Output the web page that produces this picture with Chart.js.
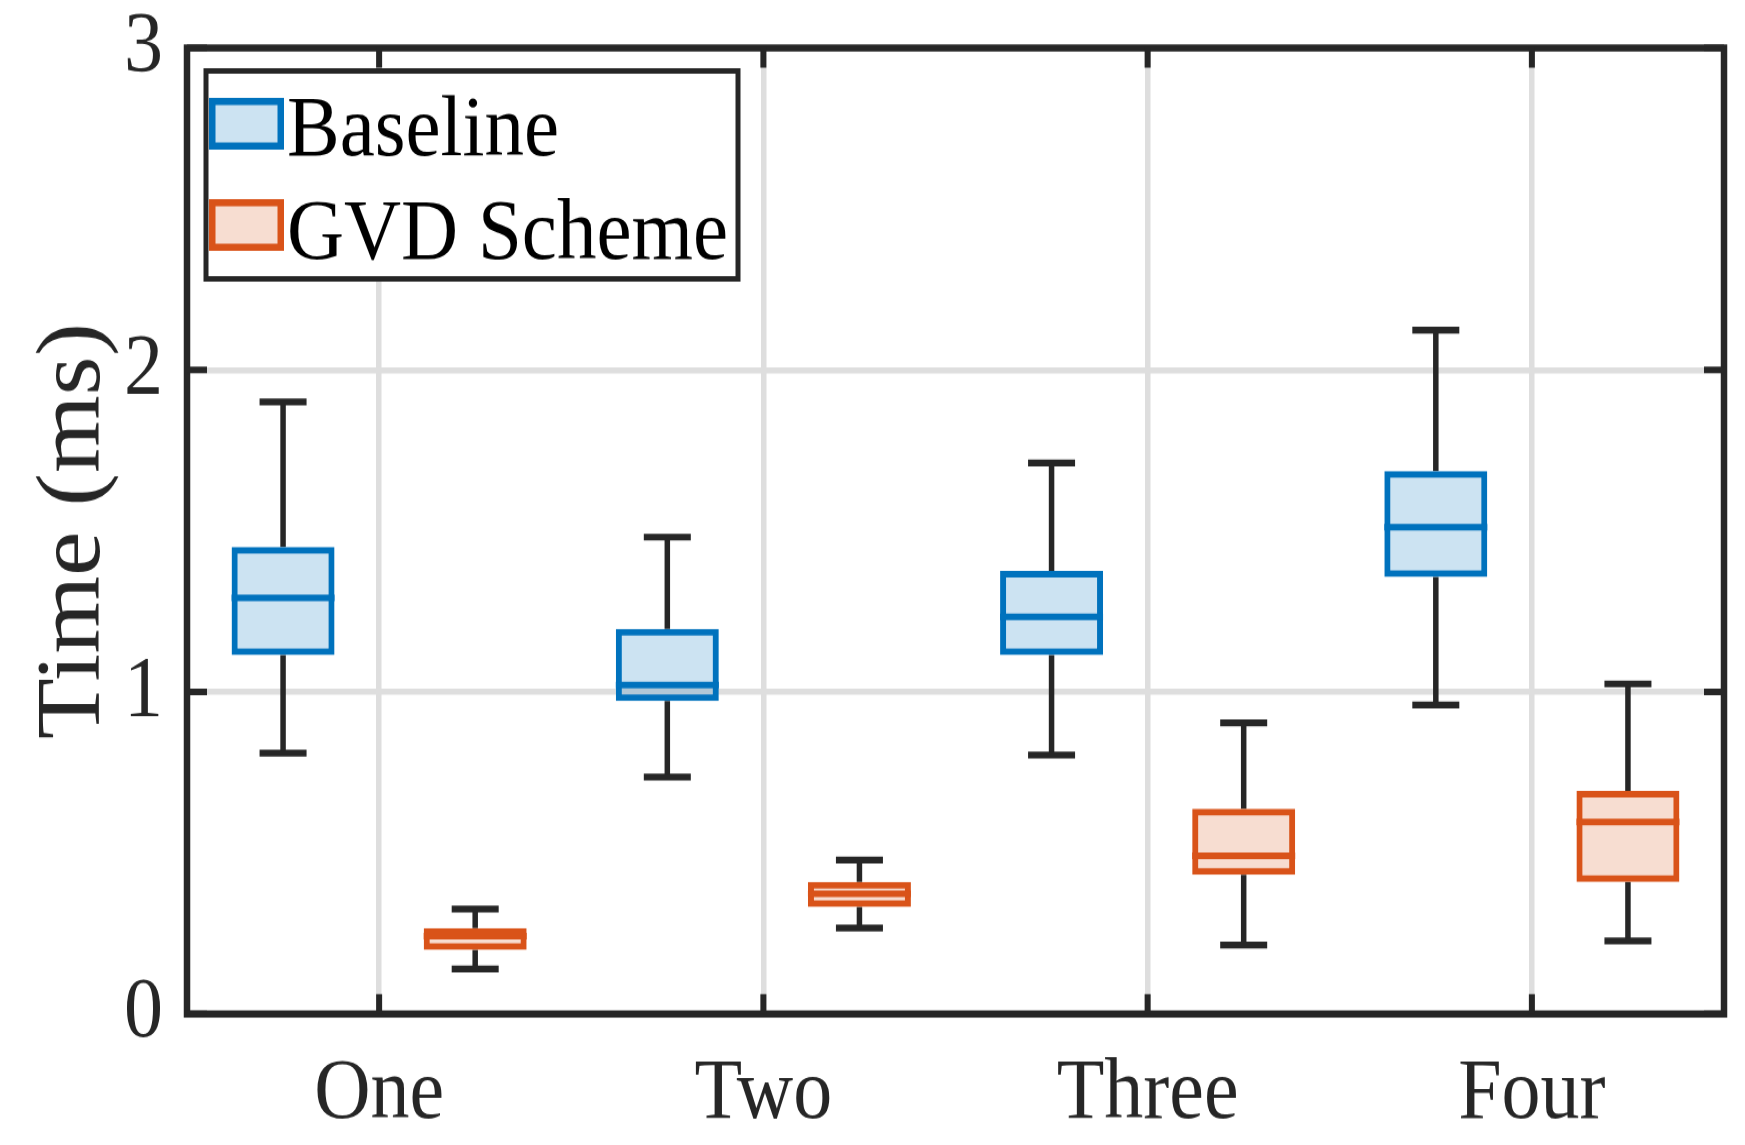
<!DOCTYPE html>
<html>
<head>
<meta charset="utf-8">
<script src="https://cdn.jsdelivr.net/npm/chart.js@4.4.0/dist/chart.umd.min.js"></script>
<style>
  html, body { margin: 0; padding: 0; background: #ffffff; width: 1745px; height: 1145px; overflow: hidden; }
  #wrap { width: 1745px; height: 1041px; transform: scale(1, 1.1); transform-origin: 0 0; }
  canvas { display: block; }
</style>
</head>
<body>
<div id="wrap"><canvas id="c" width="1745" height="1041"></canvas></div>
<script>
// ---- data ----
const categories = ['One', 'Two', 'Three', 'Four'];
const seriesNames = ['Baseline', 'GVD Scheme'];
const yTicks = [0, 1, 2, 3];

const baselineLow    = [0.81, 0.736, 0.804, 0.96];
const baselineQ1     = [1.115, 0.972, 1.115, 1.357];
const baselineMedian = [1.292, 1.022, 1.233, 1.512];
const baselineQ3     = [1.45, 1.196, 1.376, 1.686];
const baselineHigh   = [1.901, 1.481, 1.711, 2.124];

const gvdLow    = [0.14, 0.267, 0.214, 0.227];
const gvdQ1     = [0.199, 0.332, 0.432, 0.41];
const gvdMedian = [0.242, 0.373, 0.491, 0.596];
const gvdQ3     = [0.267, 0.41, 0.637, 0.693];
const gvdHigh   = [0.326, 0.478, 0.904, 1.025];

// ---- styles ----
const BLUE = '#0072BD', BLUE_FILL = 'rgba(0,114,189,0.2)';
const ORANGE = '#D95319', ORANGE_FILL = 'rgba(217,83,25,0.2)';
const DARK = '#262626';
const FONT = '"Liberation Serif", "Times New Roman", serif';

const stats = [
  { low: baselineLow, q1: baselineQ1, med: baselineMedian, q3: baselineQ3, high: baselineHigh },
  { low: gvdLow, q1: gvdQ1, med: gvdMedian, q3: gvdQ3, high: gvdHigh }
];

const boxPlugin = {
  id: 'boxparts',
  beforeDatasetsDraw(chart) {
    const ctx = chart.ctx, y = chart.scales.y;
    ctx.save();
    ctx.strokeStyle = DARK;
    ctx.lineCap = 'butt';
    chart.data.datasets.forEach((ds, i) => {
      const s = stats[i];
      chart.getDatasetMeta(i).data.forEach((bar, j) => {
        const x = bar.x;
        const yHi = y.getPixelForValue(s.high[j]);
        const yQ3 = y.getPixelForValue(s.q3[j]);
        const yQ1 = y.getPixelForValue(s.q1[j]);
        const yLo = y.getPixelForValue(s.low[j]);
        ctx.lineWidth = 5.5;
        ctx.beginPath();
        ctx.moveTo(x, yQ3); ctx.lineTo(x, yHi);
        ctx.moveTo(x, yQ1); ctx.lineTo(x, yLo);
        ctx.stroke();
        const cw = 47;
        ctx.lineWidth = 6.2;
        ctx.beginPath();
        ctx.moveTo(x - cw / 2, yHi); ctx.lineTo(x + cw / 2, yHi);
        ctx.moveTo(x - cw / 2, yLo); ctx.lineTo(x + cw / 2, yLo);
        ctx.stroke();
      });
    });
    ctx.restore();
  },
  afterDatasetsDraw(chart) {
    const ctx = chart.ctx, y = chart.scales.y;
    ctx.save();
    chart.data.datasets.forEach((ds, i) => {
      const s = stats[i];
      ctx.strokeStyle = ds.borderColor;
      ctx.lineWidth = 6;
      chart.getDatasetMeta(i).data.forEach((bar, j) => {
        const ym = y.getPixelForValue(s.med[j]);
        ctx.beginPath();
        ctx.moveTo(bar.x - bar.width / 2, ym);
        ctx.lineTo(bar.x + bar.width / 2, ym);
        ctx.stroke();
      });
    });
    ctx.restore();
  },
  afterDraw(chart) {
    const ctx = chart.ctx, a = chart.chartArea;
    const xs = chart.scales.x, ys = chart.scales.y;
    ctx.save();
    // frame
    ctx.strokeStyle = DARK;
    ctx.lineWidth = 6.5;
    ctx.strokeRect(a.left, a.top, a.right - a.left, a.bottom - a.top);
    // inward ticks
    ctx.lineWidth = 6;
    ctx.beginPath();
    yTicks.forEach(v => {
      const py = ys.getPixelForValue(v);
      ctx.moveTo(a.left, py); ctx.lineTo(a.left + 20, py);
      ctx.moveTo(a.right, py); ctx.lineTo(a.right - 20, py);
    });
    categories.forEach((c, i) => {
      const px = xs.getPixelForTick(i);
      ctx.moveTo(px, a.bottom); ctx.lineTo(px, a.bottom - 18);
      ctx.moveTo(px, a.top); ctx.lineTo(px, a.top + 18);
    });
    ctx.stroke();

    // category labels under the x axis
    ctx.fillStyle = DARK;
    ctx.font = '78px ' + FONT;
    ctx.textAlign = 'center';
    ctx.textBaseline = 'alphabetic';
    categories.forEach((c, i) => {
      ctx.fillText(c, xs.getPixelForTick(i), a.bottom + 94);
    });

    // legend
    const lx = 206, ly = 64.5, lw = 532, lh = 189;
    ctx.fillStyle = '#ffffff';
    ctx.fillRect(lx, ly, lw, lh);
    ctx.lineWidth = 5;
    ctx.strokeStyle = DARK;
    ctx.strokeRect(lx, ly, lw, lh);
    const rows = [{ top: 89, base: 141 }, { top: 181, base: 234.5 }];
    chart.data.datasets.forEach((ds, i) => {
      const r = rows[i];
      const ix = 209, iw = 75, ih = 47;
      ctx.fillStyle = ds.backgroundColor;
      ctx.fillRect(ix, r.top, iw, ih);
      ctx.strokeStyle = ds.borderColor;
      ctx.lineWidth = 6.5;
      ctx.strokeRect(ix + 3.25, r.top + 3.25, iw - 6.5, ih - 6.5);
      ctx.fillStyle = '#000000';
      ctx.font = '79px ' + FONT;
      ctx.textAlign = 'left';
      ctx.textBaseline = 'alphabetic';
      ctx.fillText(ds.label, 287, r.base);
    });
    ctx.restore();
  }
};

new Chart(document.getElementById('c'), {
  type: 'bar',
  data: {
    labels: categories,
    datasets: [
      {
        label: seriesNames[0],
        data: categories.map((c, i) => [baselineQ1[i], baselineQ3[i]]),
        backgroundColor: BLUE_FILL,
        borderColor: BLUE,
        borderWidth: 6,
        borderSkipped: false,
        categoryPercentage: 1.0,
        barPercentage: 0.536
      },
      {
        label: seriesNames[1],
        data: categories.map((c, i) => [gvdQ1[i], gvdQ3[i]]),
        backgroundColor: ORANGE_FILL,
        borderColor: ORANGE,
        borderWidth: 6,
        borderSkipped: false,
        categoryPercentage: 1.0,
        barPercentage: 0.536
      }
    ]
  },
  options: {
    responsive: false,
    animation: false,
    devicePixelRatio: 1,
    layout: { padding: { top: 43.6, right: 21, bottom: 0, left: 0 } },
    plugins: { legend: { display: false }, tooltip: { enabled: false } },
    scales: {
      x: {
        offset: true,
        grid: { display: true, offset: false, color: '#dedede', lineWidth: 5.5, drawTicks: false },
        border: { display: false },
        ticks: { display: false },
        afterFit(scale) { scale.height = 119.2; scale.paddingLeft = 0; scale.paddingRight = 0; }
      },
      y: {
        min: 0, max: 3,
        afterBuildTicks(scale) { scale.ticks = yTicks.map(v => ({ value: v })); },
        grid: { color: '#dedede', lineWidth: 5.5, drawTicks: false },
        border: { display: false },
        ticks: { color: DARK, padding: 24, font: { family: FONT, size: 78 } },
        title: { display: true, text: 'Time (ms)', color: DARK, padding: { top: 20, bottom: 0 }, font: { family: FONT, size: 91 } },
        afterFit(scale) { scale.width = 187; scale.paddingTop = 0; scale.paddingBottom = 0; }
      }
    }
  },
  plugins: [boxPlugin]
});
</script>
</body>
</html>
